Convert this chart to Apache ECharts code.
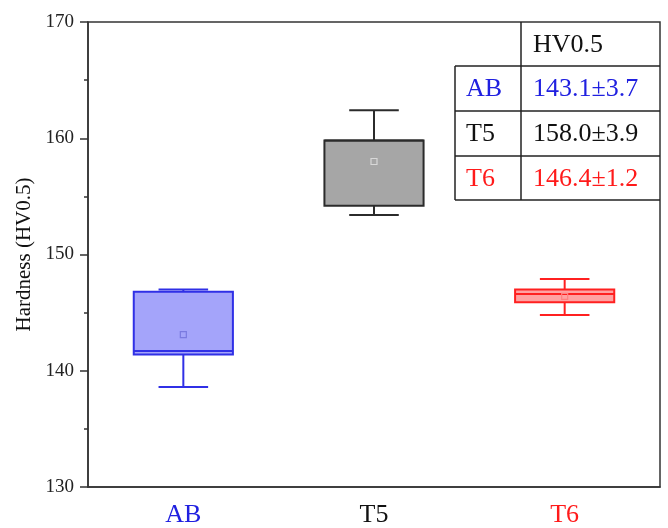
<!DOCTYPE html>
<html>
<head>
<meta charset="UTF-8">
<style>
  html, body { margin: 0; padding: 0; background: #fff; }
  #chart { width: 668px; height: 528px; }
</style>
<script src="https://cdn.jsdelivr.net/npm/echarts@6/dist/echarts.min.js"></script>
</head>
<body>
<div id="chart"></div>
<script>
// data
var groups = ['AB', 'T5', 'T6'];
var whiskerLow  = [138.6, 153.4, 144.8];
var q1          = [141.4, 154.2, 145.9];
var median      = [141.7, 159.8, 146.6];
var q3          = [146.8, 159.8, 147.0];
var whiskerHigh = [147.0, 162.4, 147.9];
var means       = [143.1, 158.0, 146.4];
var sds         = [3.7, 3.9, 1.2];

// looks
var strokeCol = ['#3030e6', '#2b2b2b', '#ff2020'];
var fillCol   = ['#a4a4fa', '#a6a6a6', '#ffa2a2'];
var meanCol   = ['#7a7ae0', '#d8d8d8', '#ff8080'];
var labelCol  = ['#2020e0', '#111111', '#ff1a1a'];

var chart = echarts.init(document.getElementById('chart'));

var boxData = groups.map(function (g, i) {
  return [i, whiskerLow[i], q1[i], median[i], q3[i], whiskerHigh[i], means[i]];
});

function renderBox(params, api) {
  var i = api.value(0);
  var band = api.size([1, 0])[0];
  var bw = band * 0.52;
  var cw = bw * 0.5;
  var pLo = api.coord([i, api.value(1)]);
  var pQ1 = api.coord([i, api.value(2)]);
  var pMed = api.coord([i, api.value(3)]);
  var pQ3 = api.coord([i, api.value(4)]);
  var pHi = api.coord([i, api.value(5)]);
  var pMean = api.coord([i, api.value(6)]);
  var x = pQ1[0];
  var st = { stroke: strokeCol[i], lineWidth: 2, fill: null };
  return {
    type: 'group',
    children: [
      { type: 'line', shape: { x1: x, y1: pHi[1], x2: x, y2: pQ3[1] }, style: st },
      { type: 'line', shape: { x1: x, y1: pQ1[1], x2: x, y2: pLo[1] }, style: st },
      { type: 'line', shape: { x1: x - cw / 2, y1: pHi[1], x2: x + cw / 2, y2: pHi[1] }, style: st },
      { type: 'line', shape: { x1: x - cw / 2, y1: pLo[1], x2: x + cw / 2, y2: pLo[1] }, style: st },
      { type: 'rect', shape: { x: x - bw / 2, y: pQ3[1], width: bw, height: pQ1[1] - pQ3[1] },
        style: { fill: fillCol[i], stroke: strokeCol[i], lineWidth: 2 } },
      { type: 'line', shape: { x1: x - bw / 2, y1: pMed[1], x2: x + bw / 2, y2: pMed[1] }, style: st },
      { type: 'rect', shape: { x: pMean[0] - 3, y: pMean[1] - 3, width: 6, height: 6 },
        style: { fill: null, stroke: meanCol[i], lineWidth: 1.2 } }
    ]
  };
}

// table in the top right corner
var tblX = 455, tblC = 521, tblR = 660;
var rowY = [22, 66, 111, 156, 200];
var tblFont = '26px "Liberation Serif"';
var tbl = [];
var lineSt = { stroke: '#222', lineWidth: 1.5 };
tbl.push({ type: 'line', shape: { x1: tblC, y1: rowY[0], x2: tblC, y2: rowY[4] }, style: lineSt });
tbl.push({ type: 'line', shape: { x1: tblX, y1: rowY[1], x2: tblX, y2: rowY[4] }, style: lineSt });
for (var r = 1; r < rowY.length; r++) {
  tbl.push({ type: 'line', shape: { x1: tblX, y1: rowY[r], x2: tblR, y2: rowY[r] }, style: lineSt });
}
tbl.push({ type: 'text', x: 533, y: (rowY[0] + rowY[1]) / 2 + 1,
  style: { text: 'HV0.5', fill: '#111', font: tblFont, verticalAlign: 'middle' } });
groups.forEach(function (g, i) {
  var cy = (rowY[i + 1] + rowY[i + 2]) / 2 + 1;
  tbl.push({ type: 'text', x: 466, y: cy,
    style: { text: g, fill: labelCol[i], font: tblFont, verticalAlign: 'middle' } });
  tbl.push({ type: 'text', x: 533, y: cy,
    style: { text: means[i].toFixed(1) + '±' + sds[i].toFixed(1), fill: labelCol[i],
             font: tblFont, verticalAlign: 'middle' } });
});

var option = {
  animation: false,
  backgroundColor: '#fff',
  grid: {
    left: 88, right: 8, top: 22, bottom: 41,
    outerBoundsMode: 'none',
    show: true, borderColor: '#333', borderWidth: 1.5
  },
  xAxis: {
    type: 'category',
    data: groups,
    boundaryGap: true,
    axisLine: { lineStyle: { color: '#333', width: 1.5 } },
    axisTick: { alignWithLabel: true, length: 7, lineStyle: { color: '#333', width: 1.5 } },
    axisLabel: {
      margin: 15,
      fontFamily: 'Liberation Serif',
      fontSize: 26,
      color: function (v) { return labelCol[groups.indexOf(v)]; }
    },
    splitLine: { show: false }
  },
  yAxis: {
    type: 'value',
    min: 130, max: 170, interval: 10,
    name: 'Hardness (HV0.5)',
    nameLocation: 'middle',
    nameGap: 48,
    nameTextStyle: { fontFamily: 'Liberation Serif', fontSize: 21, color: '#111' },
    axisLine: { show: true, lineStyle: { color: '#333', width: 1.5 } },
    axisTick: { show: true, length: 8, lineStyle: { color: '#333', width: 1.5 } },
    minorTick: { show: true, splitNumber: 2, length: 4, lineStyle: { color: '#333', width: 1.5 } },
    axisLabel: { margin: 14, fontFamily: 'Liberation Serif', fontSize: 19, color: '#222' },
    splitLine: { show: false }
  },
  series: [{
    type: 'custom',
    renderItem: renderBox,
    encode: { x: 0, y: [1, 2, 3, 4, 5, 6] },
    data: boxData
  }],
  graphic: tbl
};

chart.setOption(option);
</script>
</body>
</html>
